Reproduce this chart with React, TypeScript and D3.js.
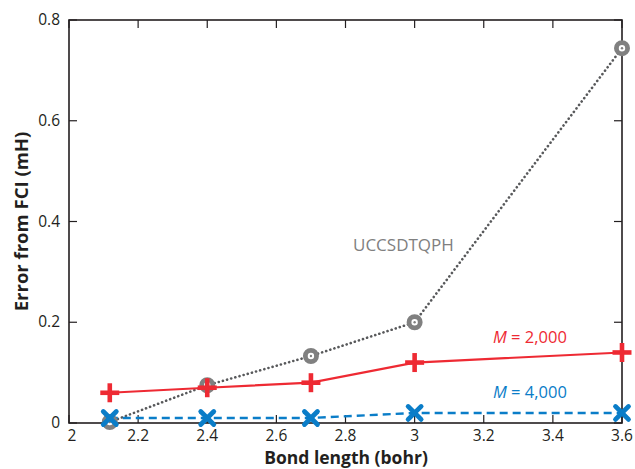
import * as d3 from 'd3'

const bondLengths = [2.118, 2.4, 2.7, 3.0, 3.6]
const uccsdtqph = [0.002, 0.075, 0.133, 0.2, 0.744]
const m2000 = [0.06, 0.07, 0.08, 0.12, 0.14]
const m4000 = [0.01, 0.01, 0.01, 0.02, 0.02]
const xTicks = [2, 2.2, 2.4, 2.6, 2.8, 3, 3.2, 3.4, 3.6]
const yTicks = [0, 0.2, 0.4, 0.6, 0.8]

const RED = '#ee2a33'
const BLUE = '#0a7dc8'
const GREY = '#808080'
const FONT = "'Open Sans', 'Noto Sans', sans-serif"

type Pt = { x: number; y: number }

function toPoints(values: number[]): Pt[] {
  return bondLengths.map((x, i) => ({ x, y: values[i] }))
}

export default function App() {
  const width = 635
  const height = 469
  const margin = { top: 20, right: 13, bottom: 46, left: 69 }
  const x = d3.scaleLinear().domain([2, 3.6]).range([margin.left, width - margin.right])
  const y = d3.scaleLinear().domain([0, 0.8]).range([height - margin.bottom, margin.top])
  const line = d3
    .line<Pt>()
    .x((p) => x(p.x))
    .y((p) => y(p.y))
  const tick = 8
  const x0 = x(2)
  const x1 = x(3.6)
  const y0 = y(0)
  const y1 = y(0.8)

  return (
    <div style={{ position: 'fixed', left: 0, top: 0 }}>
      <svg width={width} height={height} style={{ display: 'block', fontFamily: FONT }}>
        <rect width={width} height={height} fill="#fff" />

        {/* frame with inward ticks on all sides */}
        <rect x={x0} y={y1} width={x1 - x0} height={y0 - y1} fill="none" stroke="#231f20" strokeWidth={1.6} />
        {xTicks.map((t) => (
          <g key={`x${t}`}>
            <line x1={x(t)} x2={x(t)} y1={y0} y2={y0 - tick} stroke="#231f20" strokeWidth={1.2} />
            <line x1={x(t)} x2={x(t)} y1={y1} y2={y1 + tick} stroke="#231f20" strokeWidth={1.2} />
            <text x={x(t) + (t === 2 ? 3 : 0)} y={y0 + 18} textAnchor="middle" fontSize={15.5} fill="#231f20">
              {t}
            </text>
          </g>
        ))}
        {yTicks.map((t) => (
          <g key={`y${t}`}>
            <line x1={x0} x2={x0 + tick} y1={y(t)} y2={y(t)} stroke="#231f20" strokeWidth={1.2} />
            <line x1={x1} x2={x1 - tick} y1={y(t)} y2={y(t)} stroke="#231f20" strokeWidth={1.2} />
            <text x={x0 - 9} y={y(t) + 5} textAnchor="end" fontSize={15.5} fill="#231f20">
              {t}
            </text>
          </g>
        ))}

        <text x={346} y={464} textAnchor="middle" fontSize={17.5} fontWeight="bold" fill="#231f20">
          Bond length (bohr)
        </text>
        <text
          transform={`translate(28,${(y0 + y1) / 2}) rotate(-90)`}
          textAnchor="middle"
          fontSize={18.5}
          fontWeight="bold"
          fill="#231f20"
        >
          Error from FCI (mH)
        </text>

        {/* UCCSDTQPH */}
        <path d={line(toPoints(uccsdtqph)) ?? ''} fill="none" stroke="#58595b" strokeWidth={2.6} strokeDasharray="0.1 4.2" strokeLinecap="round" />
        {/* M = 2,000 */}
        <path d={line(toPoints(m2000)) ?? ''} fill="none" stroke={RED} strokeWidth={2.2} />
        {/* M = 4,000 */}
        <path d={line(toPoints(m4000)) ?? ''} fill="none" stroke={BLUE} strokeWidth={2.4} strokeDasharray="8 5" />

        {toPoints(uccsdtqph).map((p) => (
          <g key={`c${p.x}`}>
            <circle cx={x(p.x)} cy={y(p.y)} r={5.6} fill="#fff" stroke={GREY} strokeWidth={4.8} />
            <circle cx={x(p.x)} cy={y(p.y)} r={1.2} fill={GREY} />
          </g>
        ))}
        {toPoints(m2000).map((p) => (
          <g key={`p${p.x}`} stroke={RED} strokeWidth={4.6}>
            <line x1={x(p.x) - 9.5} x2={x(p.x) + 9.5} y1={y(p.y)} y2={y(p.y)} />
            <line x1={x(p.x)} x2={x(p.x)} y1={y(p.y) - 9.5} y2={y(p.y) + 9.5} />
          </g>
        ))}
        {toPoints(m4000).map((p) => (
          <g key={`m${p.x}`} stroke={BLUE} strokeWidth={4.8} strokeLinecap="round">
            <line x1={x(p.x) - 6.5} x2={x(p.x) + 6.5} y1={y(p.y) - 6.5} y2={y(p.y) + 6.5} />
            <line x1={x(p.x) - 6.5} x2={x(p.x) + 6.5} y1={y(p.y) + 6.5} y2={y(p.y) - 6.5} />
          </g>
        ))}

        <text x={353} y={251} fontSize={17} fill={GREY}>
          UCCSDTQPH
        </text>
        <text x={493} y={343} fontSize={16.5} fill={RED}>
          <tspan fontStyle="italic">M</tspan> = 2,000
        </text>
        <text x={493} y={398} fontSize={16.5} fill={BLUE}>
          <tspan fontStyle="italic">M</tspan> = 4,000
        </text>
      </svg>
    </div>
  )
}
